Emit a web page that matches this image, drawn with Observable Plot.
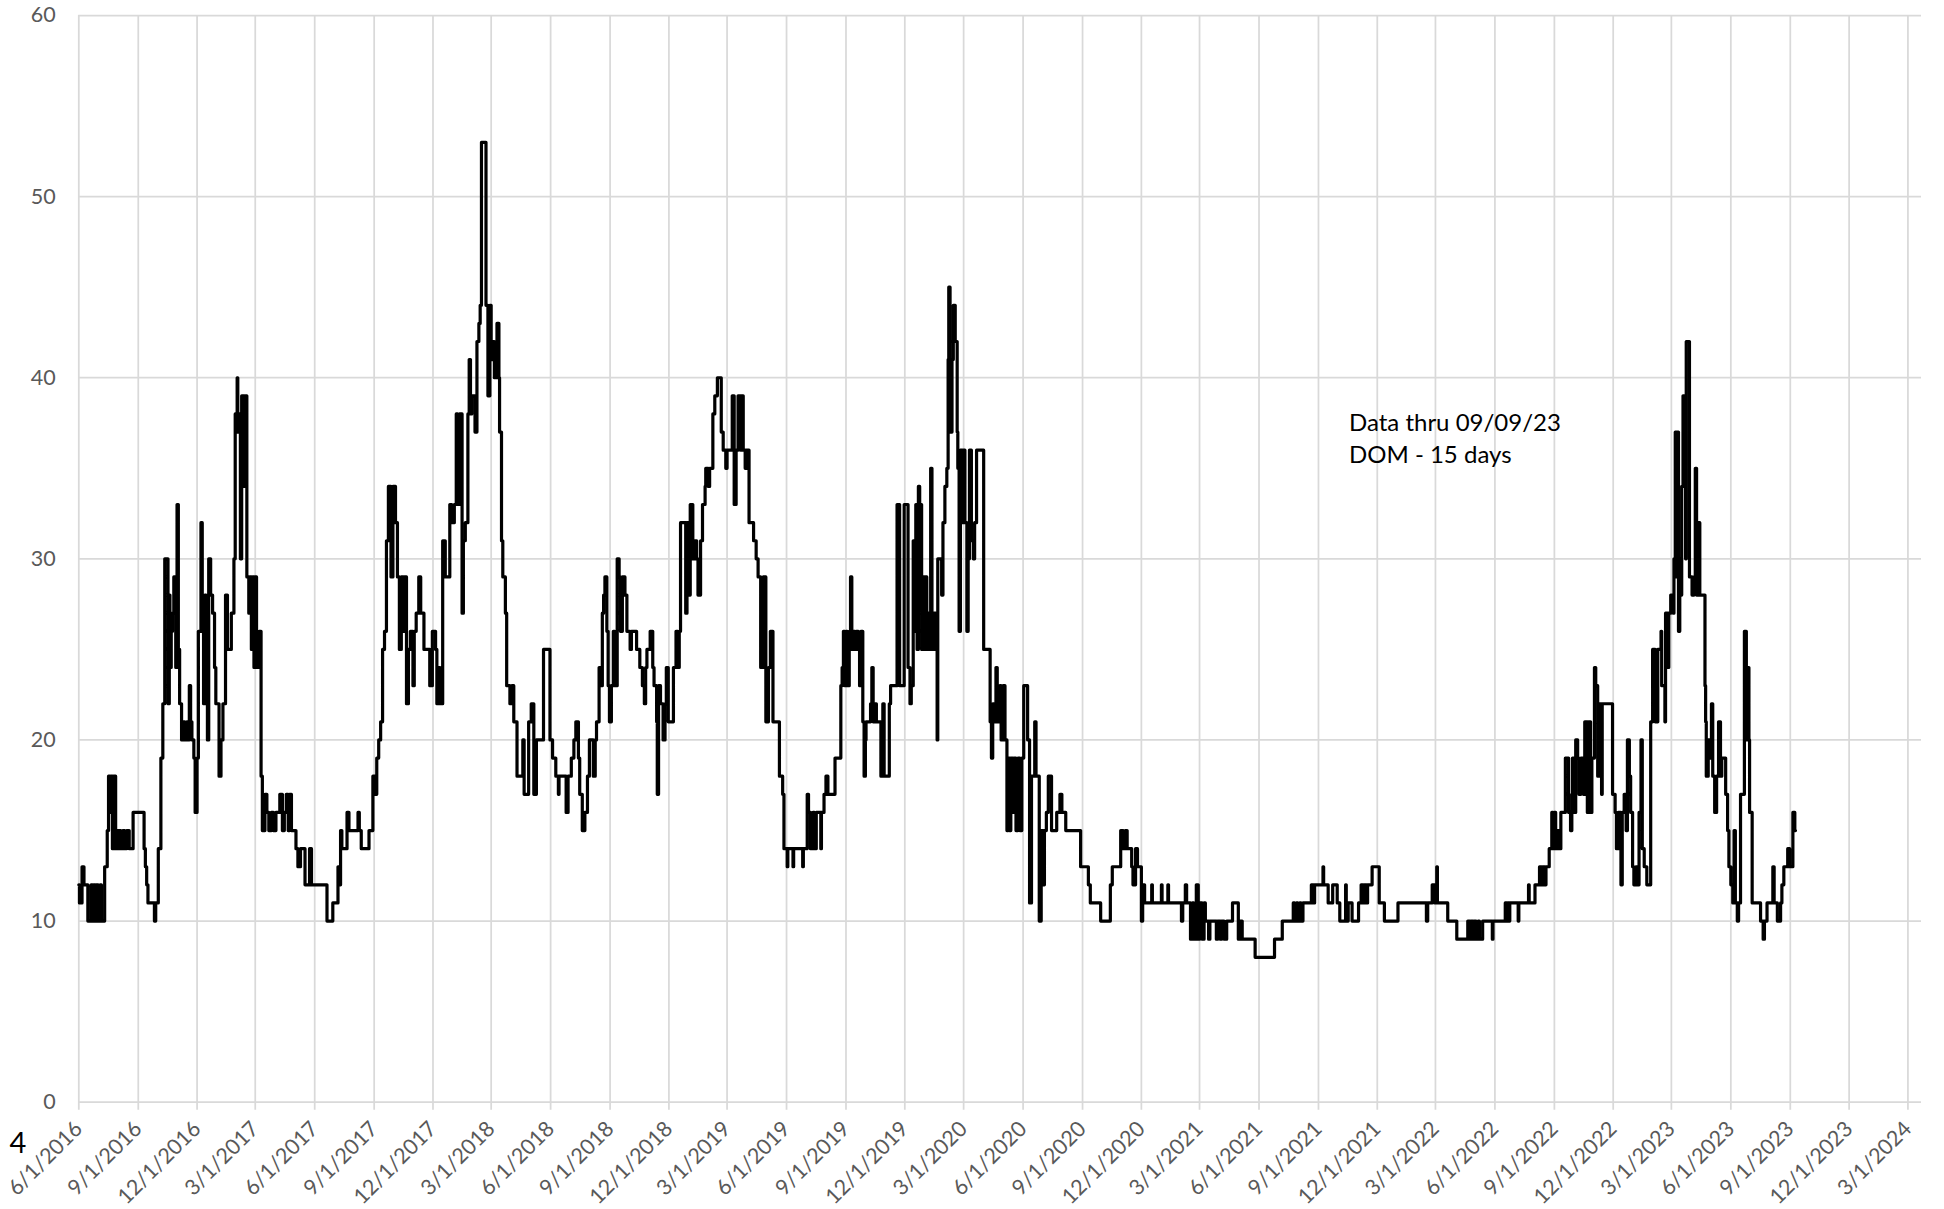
<!DOCTYPE html>
<html>
<head>
<meta charset="utf-8">
<script src="https://cdn.jsdelivr.net/npm/d3@7"></script>
<script src="https://cdn.jsdelivr.net/npm/@observablehq/plot@0.6"></script>
<style>
  html, body { margin: 0; padding: 0; background: #fff; overflow: hidden; }
  #chart svg { display: block; }
</style>
</head>
<body>
<div id="chart"></div>
<script>
// Days on market: [date, value]
const season2016 = [
  ["2016-06-01",12],["2016-06-02",11],["2016-06-06",13],["2016-06-09",12],["2016-06-15",10],["2016-06-20",12],["2016-06-22",10],["2016-06-24",12],["2016-06-26",10],["2016-06-28",12],["2016-07-01",10],["2016-07-04",12],["2016-07-06",10],["2016-07-11",13],["2016-07-15",15],["2016-07-17",18],["2016-07-19",16],["2016-07-21",18],["2016-07-23",14],["2016-07-25",18],["2016-07-28",14],["2016-07-30",15],["2016-08-01",14],["2016-08-03",15],["2016-08-05",14],["2016-08-08",15],["2016-08-11",14],["2016-08-14",15],["2016-08-18",14],["2016-08-24",16],["2016-09-10",14],["2016-09-12",13],["2016-09-14",12],["2016-09-16",11],["2016-09-26",10],["2016-09-28",11],["2016-10-02",14],["2016-10-06",19],["2016-10-09",22],["2016-10-12",30],["2016-10-17",22],["2016-10-19",28],["2016-10-20",24],["2016-10-22",26],["2016-10-24",27],["2016-10-26",29],["2016-10-29",24],["2016-10-31",33],["2016-11-02",25],["2016-11-04",22],["2016-11-07",20],["2016-11-10",21],["2016-11-12",20],["2016-11-15",21],["2016-11-17",20],["2016-11-19",23],["2016-11-21",21],["2016-11-23",20],["2016-11-26",19],["2016-11-28",16],["2016-12-01",19],["2016-12-03",26],["2016-12-07",32],["2016-12-09",26],["2016-12-11",22],["2016-12-13",28],["2016-12-15",27],["2016-12-17",20],["2016-12-19",30],["2016-12-22",28],["2016-12-25",27],["2016-12-28",24],["2016-12-30",22],["2017-01-04",18],["2017-01-07",20],["2017-01-10",22],["2017-01-14",28],["2017-01-17",25],["2017-01-23",27],["2017-01-27",30],["2017-01-29",38],["2017-02-01",40],["2017-02-02",37],["2017-02-04",38],["2017-02-06",30],["2017-02-08",39],["2017-02-12",34],["2017-02-14",39],["2017-02-16",29],["2017-02-19",27],["2017-02-21",29],["2017-02-23",25],["2017-02-25",29],["2017-02-27",24],["2017-03-01",29],["2017-03-03",24],["2017-03-07",26],["2017-03-10",18],["2017-03-12",15],["2017-03-16",17],["2017-03-19",16],["2017-03-22",15],["2017-03-26",16],["2017-03-29",15],["2017-04-02",16],["2017-04-08",17],["2017-04-12",15],["2017-04-15",16],["2017-04-18",17],["2017-04-21",15],["2017-04-23",17],["2017-04-26",15],["2017-05-03",14],["2017-05-06",13],["2017-05-10",14],["2017-05-17",12],["2017-05-24",14],["2017-05-27",12]
];
const season2017 = [
  ["2017-06-20",10],["2017-06-29",11],["2017-07-07",13],["2017-07-09",12],["2017-07-11",15],["2017-07-13",14],["2017-07-21",16],["2017-07-24",15],["2017-08-07",16],["2017-08-09",15],["2017-08-12",14],["2017-08-24",15],["2017-08-30",18],["2017-09-03",17],["2017-09-05",19],["2017-09-08",20],["2017-09-11",21],["2017-09-14",25],["2017-09-17",26],["2017-09-20",31],["2017-09-23",34],["2017-09-27",29],["2017-09-30",34],["2017-10-04",32],["2017-10-07",29],["2017-10-10",25],["2017-10-13",29],["2017-10-16",26],["2017-10-18",29],["2017-10-21",22],["2017-10-24",25],["2017-10-27",26],["2017-10-31",23],["2017-11-02",26],["2017-11-05",27],["2017-11-09",29],["2017-11-12",27],["2017-11-17",25],["2017-11-26",23],["2017-11-30",26],["2017-12-05",25],["2017-12-07",22],["2017-12-10",24],["2017-12-12",22],["2017-12-16",31],["2017-12-20",29],["2017-12-27",33],["2017-12-30",32],["2018-01-03",33],["2018-01-06",38],["2018-01-08",33],["2018-01-11",38],["2018-01-15",27],["2018-01-17",31],["2018-01-20",32],["2018-01-24",38],["2018-01-26",41],["2018-01-28",38],["2018-01-30",39],["2018-02-04",37],["2018-02-07",42],["2018-02-10",43],["2018-02-12",44],["2018-02-14",53],["2018-02-21",44],["2018-02-24",39],["2018-02-27",44],["2018-03-01",41],["2018-03-04",42],["2018-03-06",40],["2018-03-10",43],["2018-03-13",40],["2018-03-14",37],["2018-03-17",31],["2018-03-19",29],["2018-03-23",27],["2018-03-25",23],["2018-03-30",22],["2018-04-02",23],["2018-04-05",21],["2018-04-10",18],["2018-04-19",20],["2018-04-21",17],["2018-04-28",21],["2018-05-02",22],["2018-05-06",17],["2018-05-10",20],["2018-05-21",25],["2018-05-31",20]
];
const season2018 = [
  ["2018-06-04",19],["2018-06-09",18],["2018-06-13",17],["2018-06-14",18],["2018-06-25",16],["2018-06-28",18],["2018-07-03",19],["2018-07-07",20],["2018-07-10",21],["2018-07-14",19],["2018-07-16",17],["2018-07-20",15],["2018-07-24",16],["2018-07-28",18],["2018-07-31",20],["2018-08-06",18],["2018-08-09",20],["2018-08-11",21],["2018-08-15",24],["2018-08-17",23],["2018-08-20",27],["2018-08-22",28],["2018-08-24",29],["2018-08-27",26],["2018-08-29",23],["2018-08-31",21],["2018-09-03",23],["2018-09-06",26],["2018-09-08",23],["2018-09-12",30],["2018-09-15",29],["2018-09-17",26],["2018-09-20",29],["2018-09-24",28],["2018-09-27",26],["2018-10-02",25],["2018-10-04",26],["2018-10-12",25],["2018-10-17",24],["2018-10-21",23],["2018-10-24",22],["2018-10-26",24],["2018-10-28",25],["2018-11-02",26],["2018-11-06",24],["2018-11-08",23],["2018-11-12",21],["2018-11-13",17],["2018-11-15",23],["2018-11-18",22],["2018-11-22",20],["2018-11-25",22],["2018-11-27",24],["2018-11-30",21],["2018-12-08",24],["2018-12-12",26],["2018-12-15",24],["2018-12-17",26],["2018-12-19",32],["2018-12-27",27],["2018-12-29",32],["2019-01-01",28],["2019-01-03",33],["2019-01-07",30],["2019-01-10",31],["2019-01-13",30],["2019-01-15",28],["2019-01-19",31],["2019-01-22",33],["2019-01-26",34],["2019-01-27",35],["2019-01-31",34],["2019-02-02",35],["2019-02-07",38],["2019-02-10",39],["2019-02-14",40],["2019-02-20",37],["2019-02-23",36],["2019-02-27",35],["2019-03-01",36],["2019-03-09",39],["2019-03-12",33],["2019-03-15",36],["2019-03-18",39],["2019-03-22",36],["2019-03-23",39],["2019-03-26",36],["2019-03-29",35],["2019-03-31",36],["2019-04-04",32],["2019-04-11",31],["2019-04-15",30],["2019-04-18",29],["2019-04-22",24],["2019-04-26",29],["2019-04-30",21],["2019-05-04",24],["2019-05-07",26],["2019-05-11",21],["2019-05-21",18],["2019-05-26",17],["2019-05-28",14]
];
const season2019 = [
  ["2019-06-02",13],["2019-06-03",14],["2019-06-11",13],["2019-06-12",14],["2019-06-26",13],["2019-06-27",14],["2019-07-03",17],["2019-07-05",16],["2019-07-08",14],["2019-07-12",16],["2019-07-14",14],["2019-07-17",16],["2019-07-24",14],["2019-07-25",16],["2019-07-29",17],["2019-08-01",18],["2019-08-04",17],["2019-08-15",19],["2019-08-24",23],["2019-08-26",24],["2019-08-28",26],["2019-08-30",23],["2019-09-01",26],["2019-09-03",23],["2019-09-06",26],["2019-09-08",29],["2019-09-10",25],["2019-09-12",26],["2019-09-15",25],["2019-09-17",26],["2019-09-20",25],["2019-09-22",23],["2019-09-24",26],["2019-09-27",21],["2019-09-29",18],["2019-10-01",20],["2019-10-02",21],["2019-10-09",22],["2019-10-11",24],["2019-10-13",21],["2019-10-16",22],["2019-10-18",21],["2019-10-25",18],["2019-10-27",20],["2019-10-28",22],["2019-10-30",18],["2019-11-07",22],["2019-11-09",23],["2019-11-19",33],["2019-11-23",23],["2019-11-30",33],["2019-12-06",24],["2019-12-09",22],["2019-12-11",23],["2019-12-14",31],["2019-12-16",26],["2019-12-18",33],["2019-12-20",25],["2019-12-22",34],["2019-12-24",29],["2019-12-26",33],["2019-12-27",25],["2019-12-29",29],["2019-12-31",25],["2020-01-02",29],["2020-01-04",25],["2020-01-06",27],["2020-01-08",25],["2020-01-10",35],["2020-01-12",25],["2020-01-15",27],["2020-01-18",25],["2020-01-20",20],["2020-01-21",30],["2020-01-27",28],["2020-01-29",32],["2020-02-01",34],["2020-02-04",35],["2020-02-06",41],["2020-02-07",45],["2020-02-09",37],["2020-02-12",41],["2020-02-14",44],["2020-02-17",42],["2020-02-20",37],["2020-02-21",35],["2020-02-23",26],["2020-02-25",36],["2020-02-28",32],["2020-03-01",36],["2020-03-03",32],["2020-03-06",26],["2020-03-08",30],["2020-03-10",36],["2020-03-13",31],["2020-03-16",30],["2020-03-18",32],["2020-03-21",36],["2020-04-01",25],["2020-04-11",21],["2020-04-13",19],["2020-04-15",22],["2020-04-17",21],["2020-04-20",24],["2020-04-22",21],["2020-04-24",22],["2020-04-26",23],["2020-04-28",20],["2020-05-01",23],["2020-05-04",20],["2020-05-07",15],["2020-05-09",19],["2020-05-11",15],["2020-05-13",19],["2020-05-16",16],["2020-05-18",19],["2020-05-21",15],["2020-05-24",19],["2020-05-27",15],["2020-05-30",19]
];
const season2020 = [
  ["2020-06-02",23],["2020-06-08",20],["2020-06-11",11],["2020-06-14",18],["2020-06-19",21],["2020-06-21",18],["2020-06-26",10],["2020-06-29",15],["2020-07-02",12],["2020-07-04",15],["2020-07-07",16],["2020-07-10",18],["2020-07-15",15],["2020-07-23",16],["2020-07-28",17],["2020-07-31",16],["2020-08-06",15],["2020-08-29",13],["2020-09-10",12],["2020-09-13",11],["2020-09-29",10],["2020-10-14",12],["2020-10-17",13],["2020-10-30",15],["2020-11-03",14],["2020-11-06",15],["2020-11-09",14],["2020-11-16",13],["2020-11-18",12],["2020-11-22",14],["2020-11-25",13],["2020-12-01",10],["2020-12-03",12],["2020-12-06",11],["2020-12-17",12],["2020-12-18",11],["2021-01-01",12],["2021-01-02",11],["2021-01-11",12],["2021-01-12",11],["2021-02-01",10],["2021-02-03",11],["2021-02-07",12],["2021-02-09",11],["2021-02-15",9],["2021-02-18",11],["2021-02-20",9],["2021-02-24",12],["2021-02-27",9],["2021-03-01",11],["2021-03-05",9],["2021-03-08",11],["2021-03-10",10],["2021-03-15",9],["2021-03-17",10],["2021-03-27",9],["2021-03-29",10],["2021-04-02",9],["2021-04-04",10],["2021-04-08",9],["2021-04-12",10],["2021-04-21",11],["2021-04-30",9],["2021-05-03",10],["2021-05-06",9],["2021-05-26",8]
];
const season2021 = [
  ["2021-06-25",9],["2021-07-07",10],["2021-07-24",11],["2021-07-26",10],["2021-07-29",11],["2021-07-31",10],["2021-08-03",11],["2021-08-05",10],["2021-08-08",11],["2021-08-21",12],["2021-08-24",11],["2021-08-26",12],["2021-09-08",13],["2021-09-09",12],["2021-09-16",11],["2021-09-23",12],["2021-09-30",11],["2021-10-04",10],["2021-10-13",12],["2021-10-14",10],["2021-10-17",11],["2021-10-23",10],["2021-11-02",11],["2021-11-06",12],["2021-11-09",11],["2021-11-11",12],["2021-11-14",11],["2021-11-16",12],["2021-11-23",13],["2021-12-04",11],["2021-12-12",10],["2022-01-02",11],["2022-02-15",10],["2022-02-17",11],["2022-02-24",12],["2022-02-28",11],["2022-03-03",13],["2022-03-04",11],["2022-03-20",10],["2022-04-03",9],["2022-04-20",10],["2022-04-23",9],["2022-04-25",10],["2022-04-28",9],["2022-04-30",10],["2022-05-03",9],["2022-05-06",10],["2022-05-08",9],["2022-05-13",10],["2022-05-28",9],["2022-05-29",10]
];
const season2022 = [
  ["2022-06-17",11],["2022-06-19",10],["2022-06-21",11],["2022-06-23",10],["2022-06-24",11],["2022-07-07",10],["2022-07-08",11],["2022-07-23",12],["2022-07-24",11],["2022-08-02",12],["2022-08-09",13],["2022-08-12",12],["2022-08-14",13],["2022-08-17",12],["2022-08-19",13],["2022-08-24",14],["2022-08-28",16],["2022-08-30",14],["2022-09-01",16],["2022-09-03",14],["2022-09-06",15],["2022-09-08",14],["2022-09-11",16],["2022-09-18",19],["2022-09-23",16],["2022-09-26",15],["2022-09-28",17],["2022-09-29",19],["2022-10-02",16],["2022-10-04",20],["2022-10-07",19],["2022-10-09",17],["2022-10-12",19],["2022-10-16",17],["2022-10-18",21],["2022-10-22",16],["2022-10-24",21],["2022-10-27",16],["2022-10-29",19],["2022-11-02",24],["2022-11-04",23],["2022-11-07",18],["2022-11-09",22],["2022-11-13",17],["2022-11-14",22],["2022-11-30",17],["2022-12-04",16],["2022-12-06",14],["2022-12-09",16],["2022-12-13",12],["2022-12-15",16],["2022-12-18",17],["2022-12-21",15],["2022-12-23",20],["2022-12-26",18],["2022-12-28",16],["2022-12-31",13],["2023-01-02",12],["2023-01-05",13],["2023-01-08",12],["2023-01-10",16],["2023-01-13",20],["2023-01-15",14],["2023-01-18",13],["2023-01-22",12],["2023-01-28",21],["2023-01-31",25],["2023-02-04",21],["2023-02-08",25],["2023-02-13",26],["2023-02-14",23],["2023-02-19",21],["2023-02-20",27],["2023-02-23",24],["2023-02-25",27],["2023-02-28",28],["2023-03-04",27],["2023-03-05",30],["2023-03-07",37],["2023-03-09",29],["2023-03-10",37],["2023-03-12",26],["2023-03-14",30],["2023-03-15",28],["2023-03-17",34],["2023-03-19",39],["2023-03-21",37],["2023-03-23",30],["2023-03-24",42],["2023-03-29",29],["2023-04-02",28],["2023-04-05",29],["2023-04-07",35],["2023-04-09",28],["2023-04-11",32],["2023-04-14",28],["2023-04-22",23],["2023-04-23",21],["2023-04-24",18],["2023-04-27",20],["2023-04-29",19],["2023-05-02",22],["2023-05-04",18],["2023-05-07",16],["2023-05-10",18],["2023-05-13",21],["2023-05-16",18],["2023-05-18",19],["2023-05-24",17],["2023-05-27",15],["2023-05-29",13]
];
const season2023 = [
  ["2023-06-01",12],["2023-06-04",11],["2023-06-06",15],["2023-06-08",11],["2023-06-11",10],["2023-06-13",11],["2023-06-16",17],["2023-06-22",26],["2023-06-25",20],["2023-06-27",24],["2023-06-29",20],["2023-06-30",16],["2023-07-04",11],["2023-07-17",10],["2023-07-21",9],["2023-07-23",10],["2023-07-27",11],["2023-08-05",13],["2023-08-07",11],["2023-08-12",10],["2023-08-17",11],["2023-08-19",12],["2023-08-22",13],["2023-08-28",14],["2023-08-31",13],["2023-09-05",16],["2023-09-08",15],["2023-09-09",15]
];

const tickDates = [
  "2016-06-01","2016-09-01","2016-12-01","2017-03-01","2017-06-01","2017-09-01","2017-12-01","2018-03-01",
  "2018-06-01","2018-09-01","2018-12-01","2019-03-01","2019-06-01","2019-09-01","2019-12-01","2020-03-01",
  "2020-06-01","2020-09-01","2020-12-01","2021-03-01","2021-06-01","2021-09-01","2021-12-01","2022-03-01",
  "2022-06-01","2022-09-01","2022-12-01","2023-03-01","2023-06-01","2023-09-01","2023-12-01","2024-03-01"
];
const yTicks = [0, 10, 20, 30, 40, 50, 60];
const noteLines = ["Data thru 09/09/23", "DOM - 15 days"];
const cornerMark = ["4"];

const series = [season2016, season2017, season2018, season2019, season2020, season2021, season2022, season2023]
  .flat()
  .map(([d, v]) => ({date: new Date(d), value: v}));
const xTicks = tickDates.map(d => new Date(d));
const fmt = d3.utcFormat("%-m/%-d/%Y");

const grid = "#d9d9d9";
const chart = Plot.plot({
  width: 1944,
  height: 1209,
  marginTop: 15,
  marginBottom: 107.3,
  marginLeft: 78.3,
  marginRight: 23,
  style: {fontFamily: "Lato, 'Open Sans', sans-serif", background: "#fff", overflow: "visible"},
  x: {type: "utc", domain: [new Date("2016-06-01"), new Date("2024-03-22")]},
  y: {domain: [0, 60]},
  marks: [
    Plot.ruleY(yTicks, {stroke: grid, strokeWidth: 1.75}),
    Plot.ruleX(xTicks, {stroke: grid, strokeWidth: 1.75, insetBottom: -8}),
    Plot.axisY(yTicks, {tickSize: 0, tickPadding: 23, fontSize: 21.5, fill: "#595959", tickFormat: d => String(d), label: null}),
    Plot.axisX(xTicks, {tickSize: 0, tickPadding: 23, tickRotate: -45, fontSize: 21.5, fill: "#595959", tickFormat: fmt, label: null}),
    Plot.line(series, {x: "date", y: "value", curve: "step-after", stroke: "#000", strokeWidth: 3.2}),
    Plot.text([noteLines.join("\n")], {frameAnchor: "top-left", dx: 1270.2, dy: 392.5, textAnchor: "start", lineAnchor: "top", lineHeight: 1.34, fontSize: 24, fill: "#000"}),
    Plot.text(cornerMark, {frameAnchor: "bottom-left", dx: -69.3, dy: 50.3, textAnchor: "start", lineAnchor: "bottom", fontSize: 29, fill: "#000"})
  ]
});
document.getElementById("chart").append(chart);
</script>
</body>
</html>
